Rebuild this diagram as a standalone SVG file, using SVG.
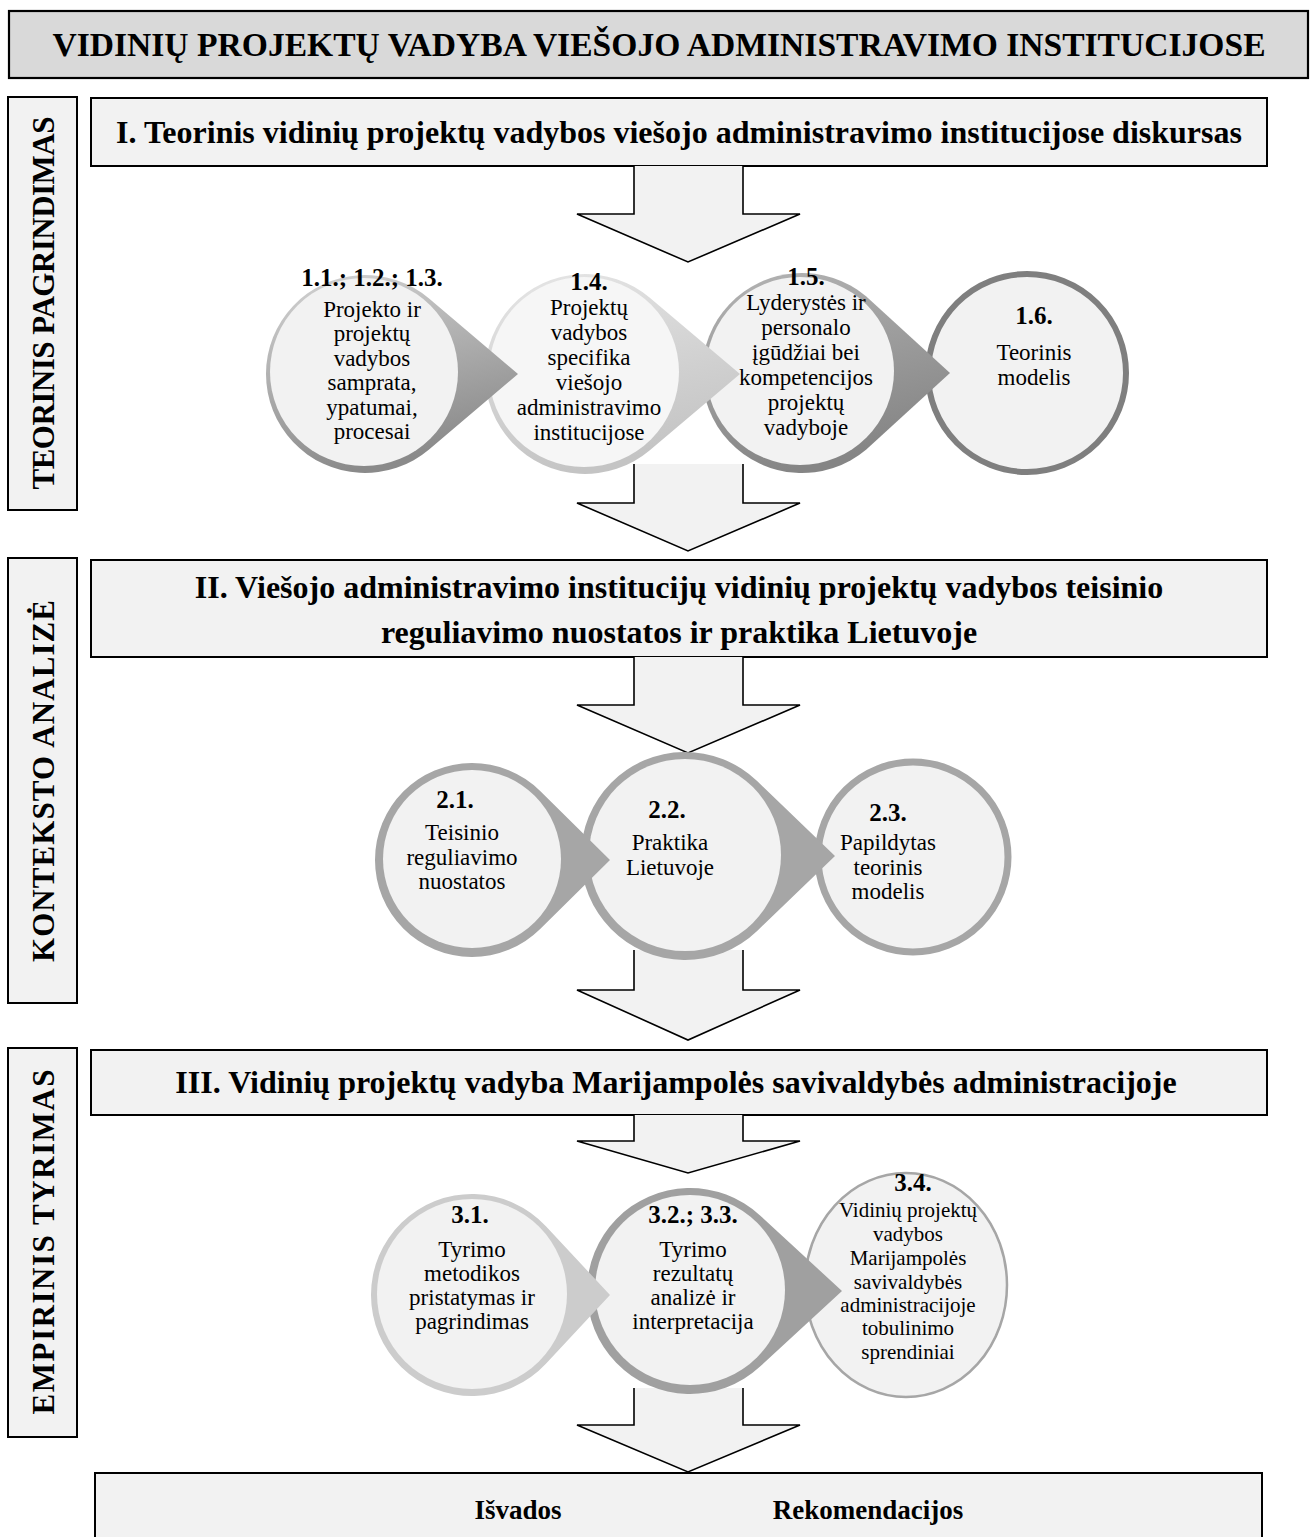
<svg xmlns="http://www.w3.org/2000/svg" width="1311" height="1537" viewBox="0 0 1311 1537">
  <style>
    .box { fill: #f2f2f2; stroke: #000; stroke-width: 2; }
    .title-box { fill: #d9d9d9; stroke: #000; stroke-width: 2.2; }
    .arrow { fill: #f2f2f2; stroke: #000; stroke-width: 1.6; stroke-linejoin: miter; }
    .inner { fill: #f2f2f2; }
    .t { font-family: "Liberation Serif", "Times New Roman", serif; fill: #000; text-anchor: middle; }
    .title { font-size: 33.6px; font-weight: bold; }
    .head { font-size: 32px; font-weight: bold; }
    .side { font-size: 31px; font-weight: bold; }
    .num { font-size: 25px; font-weight: bold; }
    .body { font-size: 23px; }
    .small { font-size: 21px; }
    .final { font-size: 27px; font-weight: bold; }
  </style>
  <defs>
    <linearGradient id="ringDark" x1="0" y1="0" x2="0.3" y2="1">
      <stop offset="0" stop-color="#d4d4d4"/>
      <stop offset="1" stop-color="#8a8a8a"/>
    </linearGradient>
    <linearGradient id="ringLight" x1="0" y1="0" x2="0.3" y2="1">
      <stop offset="0" stop-color="#e6e6e6"/>
      <stop offset="1" stop-color="#c4c4c4"/>
    </linearGradient>
    <linearGradient id="ringMid" x1="0" y1="0" x2="0.3" y2="1">
      <stop offset="0" stop-color="#b4b4b4"/>
      <stop offset="1" stop-color="#858585"/>
    </linearGradient>
  </defs>

  <!-- title -->
  <g id="title">
    <rect class="title-box" x="9" y="11" width="1299" height="67"/>
    <text class="t title" x="659" y="56">VIDINIŲ PROJEKTŲ VADYBA VIEŠOJO ADMINISTRAVIMO INSTITUCIJOSE</text>
  </g>

  <!-- side labels -->
  <g id="side-teorinis">
    <rect class="box" x="8" y="97" width="69" height="413"/>
    <text class="t side" transform="translate(54,303) rotate(-90)" textLength="373" lengthAdjust="spacing">TEORINIS PAGRINDIMAS</text>
  </g>
  <g id="side-konteksto">
    <rect class="box" x="8" y="558" width="69" height="445"/>
    <text class="t side" transform="translate(54,781) rotate(-90)" textLength="362" lengthAdjust="spacing">KONTEKSTO ANALIZĖ</text>
  </g>
  <g id="side-empirinis">
    <rect class="box" x="8" y="1048" width="69" height="389"/>
    <text class="t side" transform="translate(54,1242) rotate(-90)" textLength="345" lengthAdjust="spacing">EMPIRINIS TYRIMAS</text>
  </g>

  <!-- section headers -->
  <g id="part-1">
    <rect class="box" x="91" y="98" width="1176" height="68"/>
    <text class="t head" x="679" y="143">I. Teorinis vidinių projektų vadybos viešojo administravimo institucijose diskursas</text>
  </g>
  <g id="part-2">
    <rect class="box" x="91" y="560" width="1176" height="97"/>
    <text class="t head" x="679" y="598">II. Viešojo administravimo institucijų vidinių projektų vadybos teisinio</text>
    <text class="t head" x="679" y="643">reguliavimo nuostatos ir praktika Lietuvoje</text>
  </g>
  <g id="part-3">
    <rect class="box" x="91" y="1050" width="1176" height="65"/>
    <text class="t head" x="676" y="1093">III. Vidinių projektų vadyba Marijampolės savivaldybės administracijoje</text>
  </g>

  <!-- block arrows between the stages -->
  <g id="connectors">
    <path class="arrow" d="M634 166 L634 214 L577 214 L688 262 L800 214 L743 214 L743 166"/>
    <path class="arrow" d="M634 464 L634 503 L577 503 L688 551 L800 503 L743 503 L743 464"/>
    <path class="arrow" d="M634 657 L634 705 L577 705 L688 753 L800 705 L743 705 L743 657"/>
    <path class="arrow" d="M634 950 L634 990 L577 990 L688 1040 L800 990 L743 990 L743 950"/>
    <path class="arrow" d="M634 1115 L634 1141 L577 1141 L688 1173 L800 1141 L743 1141 L743 1115"/>
    <path class="arrow" d="M634 1388 L634 1425 L577 1425 L688 1472 L800 1425 L743 1425 L743 1388"/>
  </g>

  <!-- row 1 (drawn right to left so each pointer lies on the next circle) -->
  <g id="n-1-6">
    <circle cx="1027" cy="373" r="99" fill="#f2f2f2" stroke="#7f7f7f" stroke-width="6"/>
    <text class="t num" x="1034" y="324">1.6.</text>
    <text class="t body" x="1034"><tspan x="1034" y="360">Teorinis</tspan><tspan x="1034" y="385">modelis</tspan></text>
  </g>
  <g id="n-1-5">
    <path d="M866.05 296.2 A100 100 0 1 0 866.05 449.8 L950 373 Z" fill="url(#ringMid)"/>
    <circle class="inner" cx="800" cy="371" r="94"/>
    <text class="t num" x="806" y="285">1.5.</text>
    <text class="t body"><tspan x="806" y="310">Lyderystės ir</tspan><tspan x="806" y="335">personalo</tspan><tspan x="806" y="360">įgūdžiai bei</tspan><tspan x="806" y="385">kompetencijos</tspan><tspan x="806" y="410">projektų</tspan><tspan x="806" y="435">vadyboje</tspan></text>
  </g>
  <g id="n-1-4">
    <path d="M649.52 297.6 A100 100 0 1 0 649.52 450.4 L740 374 Z" fill="url(#ringLight)"/>
    <circle cx="584" cy="372" r="95" fill="#f6f6f6"/>
    <text class="t num" x="589" y="290">1.4.</text>
    <text class="t body"><tspan x="589" y="315">Projektų</tspan><tspan x="589" y="340">vadybos</tspan><tspan x="589" y="365">specifika</tspan><tspan x="589" y="390">viešojo</tspan><tspan x="589" y="415">administravimo</tspan><tspan x="589" y="440">institucijose</tspan></text>
  </g>
  <g id="n-1-1">
    <path d="M429.06 298.52 A99 99 0 1 0 429.06 449.48 L518 374 Z" fill="url(#ringDark)"/>
    <circle class="inner" cx="364" cy="372" r="94"/>
    <text class="t num" x="372" y="286">1.1.; 1.2.; 1.3.</text>
    <text class="t body"><tspan x="372" y="317">Projekto ir</tspan><tspan x="372" y="341">projektų</tspan><tspan x="372" y="366">vadybos</tspan><tspan x="372" y="390">samprata,</tspan><tspan x="372" y="415">ypatumai,</tspan><tspan x="372" y="439">procesai</tspan></text>
  </g>

  <!-- row 2 -->
  <g id="n-2-3">
    <circle cx="913" cy="857" r="95" fill="#f2f2f2" stroke="#a6a6a6" stroke-width="7"/>
    <text class="t num" x="888" y="821">2.3.</text>
    <text class="t body"><tspan x="888" y="850">Papildytas</tspan><tspan x="888" y="875">teorinis</tspan><tspan x="888" y="899">modelis</tspan></text>
  </g>
  <g id="n-2-2">
    <path d="M757.11 781.06 A104 104 0 1 0 757.11 930.94 L835 856 Z" fill="#a6a6a6"/>
    <circle class="inner" cx="685" cy="855" r="96"/>
    <text class="t num" x="667" y="818">2.2.</text>
    <text class="t body"><tspan x="670" y="850">Praktika</tspan><tspan x="670" y="875">Lietuvoje</tspan></text>
  </g>
  <g id="n-2-1">
    <path d="M540.18 791.01 A97 97 0 1 0 540.18 928.99 L610 860 Z" fill="#a6a6a6"/>
    <circle class="inner" cx="472" cy="859" r="89"/>
    <text class="t num" x="455" y="808">2.1.</text>
    <text class="t body"><tspan x="462" y="840">Teisinio</tspan><tspan x="462" y="865">reguliavimo</tspan><tspan x="462" y="889">nuostatos</tspan></text>
  </g>

  <!-- row 3 -->
  <g id="n-3-4">
    <ellipse cx="906" cy="1285" rx="101" ry="112" fill="#f2f2f2" stroke="#a6a6a6" stroke-width="2.5"/>
    <text class="t num" x="913" y="1191">3.4.</text>
    <text class="t small"><tspan x="908" y="1217">Vidinių projektų</tspan><tspan x="908" y="1241">vadybos</tspan><tspan x="908" y="1265">Marijampolės</tspan><tspan x="908" y="1289">savivaldybės</tspan><tspan x="908" y="1312">administracijoje</tspan><tspan x="908" y="1335">tobulinimo</tspan><tspan x="908" y="1359">sprendiniai</tspan></text>
  </g>
  <g id="n-3-2">
    <path d="M759.8 1215.25 A103 103 0 1 0 759.8 1366.75 L842 1291 Z" fill="#a0a0a0"/>
    <circle class="inner" cx="690" cy="1290" r="95"/>
    <text class="t num" x="693" y="1223">3.2.; 3.3.</text>
    <text class="t body"><tspan x="693" y="1257">Tyrimo</tspan><tspan x="693" y="1281">rezultatų</tspan><tspan x="693" y="1305">analizė ir</tspan><tspan x="693" y="1329">interpretacija</tspan></text>
  </g>
  <g id="n-3-1">
    <path d="M545.92 1226.18 A101 101 0 1 0 545.92 1363.82 L610 1295 Z" fill="#cccccc"/>
    <circle class="inner" cx="472" cy="1294" r="95"/>
    <text class="t num" x="470" y="1223">3.1.</text>
    <text class="t body"><tspan x="472" y="1257">Tyrimo</tspan><tspan x="472" y="1281">metodikos</tspan><tspan x="472" y="1305">pristatymas ir</tspan><tspan x="472" y="1329">pagrindimas</tspan></text>
  </g>

  <!-- results -->
  <g id="results">
    <rect class="box" x="95" y="1473" width="1167" height="80"/>
    <text class="t final" x="518" y="1519">Išvados</text>
    <text class="t final" x="868" y="1519">Rekomendacijos</text>
  </g>
</svg>
